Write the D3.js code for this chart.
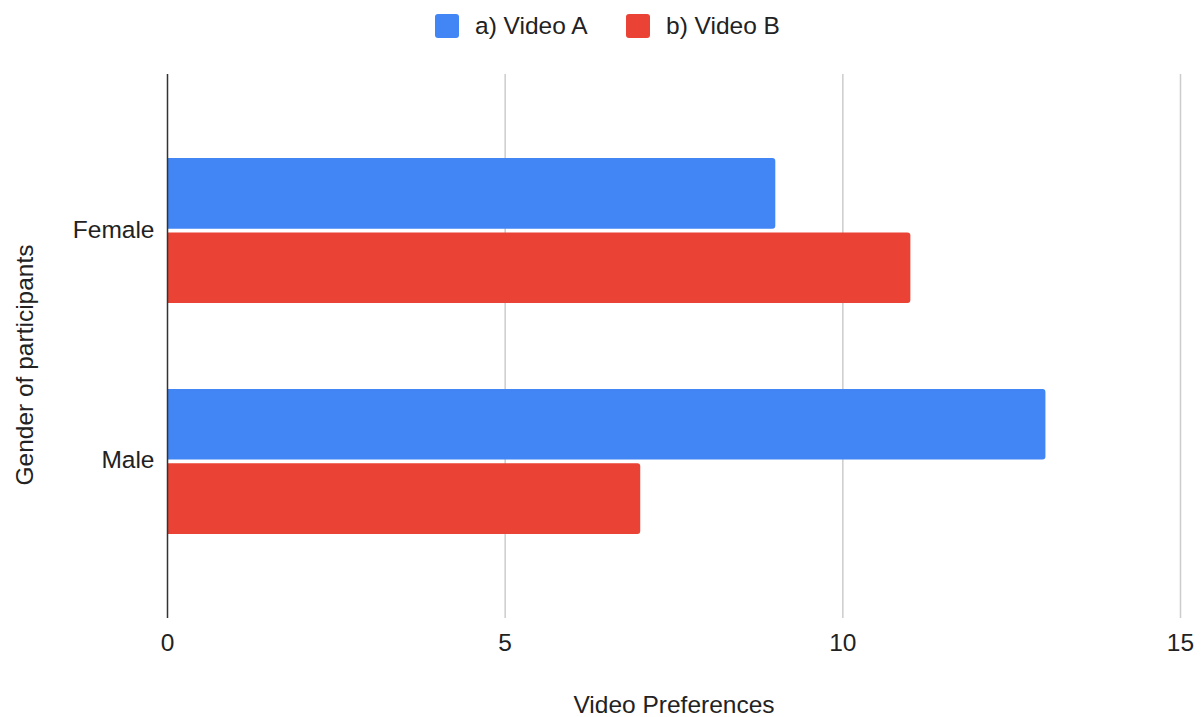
<!DOCTYPE html>
<html>
<head>
<meta charset="utf-8">
<script src="https://cdn.jsdelivr.net/npm/d3@7"></script>
<style>
  html, body { margin: 0; padding: 0; background: #fff; }
  svg { display: block; font-family: "Liberation Sans", Arial, Helvetica, sans-serif; }
</style>
</head>
<body>
<svg id="chart" width="1202" height="717"></svg>
<script>
// Survey results: preferred video by participant gender
const categories = ["Female", "Male"];
const seriesNames = ["a) Video A", "b) Video B"];
const videoA = [9, 13];
const videoB = [11, 7];
const xTicks = [0, 5, 10, 15];
const colors = ["#4285F4", "#EA4335"];

const svg = d3.select("#chart");
const W = 1202, H = 717;
const margin = { left: 167.5, right: 21.5, top: 74, bottom: 99 };
const plotW = W - margin.left - margin.right;
const plotH = H - margin.top - margin.bottom;
const fontSize = 24.5;

const rows = categories.map((c, i) => ({ cat: c, values: [videoA[i], videoB[i]] }));

const x = d3.scaleLinear().domain([0, 15]).range([margin.left, margin.left + plotW]);
const y = d3.scaleBand().domain(categories)
  .range([margin.top, margin.top + plotH])
  .paddingInner(0.372).paddingOuter(0.364);
const ySub = d3.scaleBand().domain(d3.range(seriesNames.length))
  .range([0, y.bandwidth()]).paddingInner(0.05);

// Vertical gridlines
svg.append("g").selectAll("line")
  .data(xTicks.filter(t => t !== 0))
  .join("line")
  .attr("x1", d => x(d)).attr("x2", d => x(d))
  .attr("y1", margin.top).attr("y2", margin.top + plotH)
  .attr("stroke", "#cccccc").attr("stroke-width", 1.5);

// Bars with rounded right ends
function barPath(x0, x1, y0, h, r) {
  r = Math.min(r, (x1 - x0) / 2, h / 2);
  return `M${x0},${y0}H${x1 - r}Q${x1},${y0} ${x1},${y0 + r}V${y0 + h - r}Q${x1},${y0 + h} ${x1 - r},${y0 + h}H${x0}Z`;
}

const groups = svg.append("g").selectAll("g")
  .data(rows).join("g")
  .attr("transform", d => `translate(0,${y(d.cat)})`);

groups.selectAll("path")
  .data(d => d.values.map((v, i) => ({ v, i })))
  .join("path")
  .attr("d", d => barPath(x(0), x(d.v), ySub(d.i), ySub.bandwidth(), 3))
  .attr("fill", d => colors[d.i]);

// Zero axis line
svg.append("line")
  .attr("x1", x(0)).attr("x2", x(0))
  .attr("y1", margin.top).attr("y2", margin.top + plotH)
  .attr("stroke", "#333333").attr("stroke-width", 1.5);

// X tick labels
svg.append("g").selectAll("text")
  .data(xTicks).join("text")
  .attr("x", d => x(d)).attr("y", 651)
  .attr("text-anchor", "middle")
  .attr("font-size", fontSize).attr("fill", "#222")
  .text(d => d);

// Y category labels
svg.append("g").selectAll("text")
  .data(categories).join("text")
  .attr("x", x(0) - 13)
  .attr("y", d => y(d) + y.bandwidth() / 2 + 7)
  .attr("text-anchor", "end")
  .attr("font-size", fontSize).attr("fill", "#222")
  .text(d => d);

// Axis titles
svg.append("text")
  .attr("x", margin.left + plotW / 2).attr("y", 713)
  .attr("text-anchor", "middle")
  .attr("font-size", fontSize).attr("fill", "#222")
  .text("Video Preferences");

svg.append("text")
  .attr("transform", "translate(33,365) rotate(-90)")
  .attr("text-anchor", "middle")
  .attr("font-size", fontSize).attr("fill", "#222")
  .text("Gender of participants");

// Legend
const legendX = [435, 626];
const legend = svg.append("g").selectAll("g")
  .data(seriesNames).join("g")
  .attr("transform", (d, i) => `translate(${legendX[i]},14)`);
legend.append("rect")
  .attr("width", 24).attr("height", 24).attr("rx", 3)
  .attr("fill", (d, i) => colors[i]);
legend.append("text")
  .attr("x", 40).attr("y", 20)
  .attr("font-size", fontSize).attr("fill", "#222")
  .text(d => d);
</script>
</body>
</html>
